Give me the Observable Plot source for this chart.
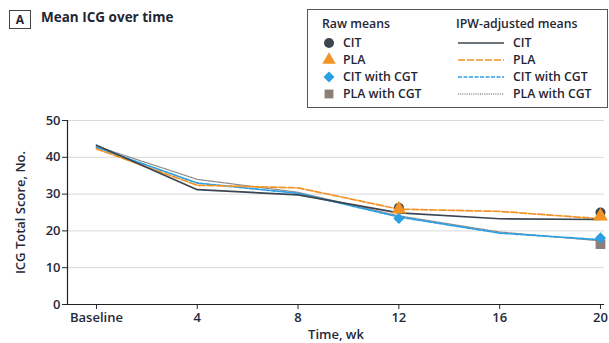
<!DOCTYPE html>
<html>
<head>
<meta charset="utf-8">
<script src="https://cdn.jsdelivr.net/npm/d3@7"></script>
<script src="https://cdn.jsdelivr.net/npm/@observablehq/plot@0.6"></script>
<style>
  body { margin: 0; background: #fff; font-family: "Open Sans", Lato, sans-serif; }
  #wrap { position: relative; width: 609px; height: 343px; overflow: hidden; }
  #chart { position: absolute; left: 0; top: 0; }
  .abs { position: absolute; white-space: nowrap; color: #1f2633; }
  #tag { left: 9px; top: 10px; width: 20px; height: 17px; border: 1px solid #444; font-weight: 700; font-size: 12px; text-align: center; line-height: 17px; }
  #title { left: 41px; top: 8px; font-weight: 700; font-size: 13.5px; }
  #legend { left: 307px; top: 9px; width: 299px; height: 97px; border: 1px solid #555; }
  .lg { position: absolute; font-size: 12.3px; line-height: 14px; font-weight: 600; color: #1f2633; white-space: nowrap; }
</style>
</head>
<body>
<div id="wrap">
  <div id="chart"></div>
  <div class="abs" id="tag">A</div>
  <div class="abs" id="title">Mean ICG over time</div>
  <div class="abs" id="legend"></div>
</div>
<script>
// Weeks and labels
const weeks = [0, 4, 8, 12, 16, 20];
const tickLabels = ["Baseline", "4", "8", "12", "16", "20"];
const seriesNames = ["CIT", "PLA", "CIT with CGT", "PLA with CGT"];

// IPW-adjusted means (lines)
const ipwCIT    = [43.3, 31.2, 29.8, 24.9, 23.3, 23.1];
const ipwPLA    = [42.3, 32.4, 31.7, 25.9, 25.3, 23.3];
const ipwCITCGT = [42.7, 33.0, 30.2, 23.8, 19.4, 17.6];
const ipwPLACGT = [43.0, 34.0, 30.5, 24.1, 19.7, 17.3];

// Raw means (markers)
const rawWeeks   = [12, 20];
const rawCIT     = [26.3, 25.0];
const rawPLA     = [25.9, 24.0];
const rawCITCGT  = [23.4, 18.1];
const rawPLACGT  = [null, 16.4];

const colors = {"CIT": "#3b4651", "PLA": "#f39325", "CIT with CGT": "#2b9fe3", "PLA with CGT": "#8a8a8a"};
const dashes = {"CIT": null, "PLA": "7,2", "CIT with CGT": "4,1.5", "PLA with CGT": "1,1.2"};
const markerColors = {"CIT": "#3b4651", "PLA": "#f39325", "CIT with CGT": "#2b9fe3", "PLA with CGT": "#8c7f77"};
const symbols = {"CIT": "circle", "PLA": "triangle", "CIT with CGT": "diamond2", "PLA with CGT": "square"};

const ipwAll = [ipwCIT, ipwPLA, ipwCITCGT, ipwPLACGT];
const rawAll = [rawCIT, rawPLA, rawCITCGT, rawPLACGT];
const lineData = [];
ipwAll.forEach((arr, i) => arr.forEach((v, j) => lineData.push({series: seriesNames[i], week: weeks[j], value: v})));
const rawData = [];
rawAll.forEach((arr, i) => arr.forEach((v, j) => { if (v != null) rawData.push({series: seriesNames[i], week: rawWeeks[j], value: v}); }));

const xDomain = [-1.15, 20.16];
const font = '"Open Sans", Lato, sans-serif';

const marks = [
  Plot.gridY([10, 20, 30, 40, 50], {stroke: "#d9d9d9", strokeOpacity: 1, strokeWidth: 1}),
  Plot.axisY({ticks: [0, 10, 20, 30, 40, 50], tickSize: 5, tickPadding: 2, label: "ICG Total Score, No.", labelAnchor: "center", labelArrow: "none", labelOffset: 52, fontSize: 13}),
  Plot.axisX({ticks: weeks, tickFormat: (d) => tickLabels[weeks.indexOf(d)], tickSize: 5, tickPadding: 3, label: "Time, wk", labelAnchor: "center", labelArrow: "none", labelOffset: 34, fontSize: 13}),
  Plot.ruleY([0], {stroke: "#222", strokeWidth: 1.2}),
  Plot.ruleX([xDomain[0]], {y1: 0, y2: 50, stroke: "#222", strokeWidth: 1.2})
];
const order = ["PLA with CGT", "CIT with CGT", "PLA", "CIT"];
for (const s of order) {
  marks.push(Plot.line(lineData.filter(d => d.series === s), {x: "week", y: "value", stroke: colors[s], strokeWidth: s === "PLA with CGT" ? 1.3 : 1.7, strokeDasharray: dashes[s]}));
}
const mOrder = ["PLA with CGT", "CIT with CGT", "CIT", "PLA"];
for (const s of mOrder) {
  marks.push(Plot.dot(rawData.filter(d => d.series === s), {x: "week", y: "value", symbol: () => symbols[s], fill: markerColors[s], stroke: "none", r: s === "PLA" ? 5.5 : (s === "PLA with CGT" ? 5.5 : 5)}));
}

const chart = Plot.plot({
  width: 609,
  height: 343,
  marginLeft: 67,
  marginRight: 5,
  marginTop: 120,
  marginBottom: 39,
  style: {fontFamily: font, fontSize: "13px", color: "#1f2a3a", fontWeight: 600, background: "#fff"},
  x: {domain: xDomain},
  y: {domain: [0, 50]},
  symbol: {type: "identity"},
  marks
});
document.getElementById("chart").appendChild(chart);

// Legend
const leg = d3.select("#legend");
const rowY = [33, 50, 67, 84];
leg.append("div").attr("class", "lg").style("left", "14px").style("top", "7px").text("Raw means");
leg.append("div").attr("class", "lg").style("left", "148px").style("top", "7px").text("IPW-adjusted means");
const lsvg = leg.append("svg").attr("width", 299).attr("height", 97).style("position", "absolute").style("left", "0px").style("top", "0px");
const symGen = {circle: d3.symbolCircle, triangle: d3.symbolTriangle, diamond2: d3.symbolDiamond2, square: d3.symbolSquare};
seriesNames.forEach((s, i) => {
  const y = rowY[i];
  lsvg.append("path").attr("d", d3.symbol(symGen[symbols[s]], 78)()).attr("transform", `translate(21,${y})`).attr("fill", markerColors[s]);
  lsvg.append("line").attr("x1", 150).attr("x2", 196).attr("y1", y).attr("y2", y).attr("stroke", colors[s]).attr("stroke-width", 1.5).attr("stroke-dasharray", dashes[s]);
  leg.append("div").attr("class", "lg").style("left", "35px").style("top", (y - 7) + "px").text(s);
  leg.append("div").attr("class", "lg").style("left", "205px").style("top", (y - 7) + "px").text(s);
});
</script>
</body>
</html>
